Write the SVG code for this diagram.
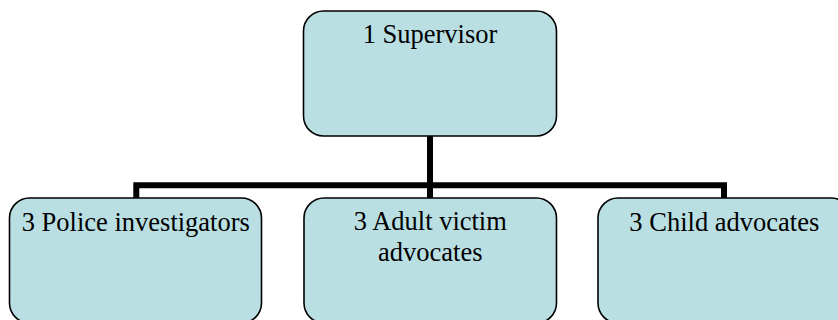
<svg xmlns="http://www.w3.org/2000/svg" width="838" height="320" viewBox="0 0 838 320">
<style>
.box{fill:#B9DFE3;stroke:#000;stroke-width:1.6}
.lbl{font-family:"Liberation Serif","Times New Roman",serif;font-size:26.5px;fill:#000;text-anchor:middle}
.con{fill:none;stroke:#000;stroke-width:6;stroke-linejoin:miter;stroke-linecap:butt}
</style>
<rect width="838" height="320" fill="#fff"/>
<g id="connectors">
<path class="con" d="M136.3,198 V185.3 H724 V198"/>
<path class="con" d="M430,136 V198"/>
</g>
<g id="supervisor">
<rect class="box" x="303.5" y="11" width="253" height="125" rx="20" ry="20"/>
<text class="lbl" x="430" y="43.3">1 Supervisor</text>
</g>
<g id="police">
<rect class="box" x="9.5" y="198" width="252" height="125" rx="20" ry="20"/>
<text class="lbl" x="135.8" y="230.7">3 Police investigators</text>
</g>
<g id="adult">
<rect class="box" x="304" y="198" width="252.5" height="125" rx="20" ry="20"/>
<text class="lbl" x="430.3" y="230"><tspan x="430.3" y="230">3 Adult victim</tspan><tspan x="430.3" y="260.7">advocates</tspan></text>
</g>
<g id="child">
<rect class="box" x="598" y="198" width="253" height="125" rx="20" ry="20"/>
<text class="lbl" x="724.3" y="230.7">3 Child advocates</text>
</g>
</svg>
